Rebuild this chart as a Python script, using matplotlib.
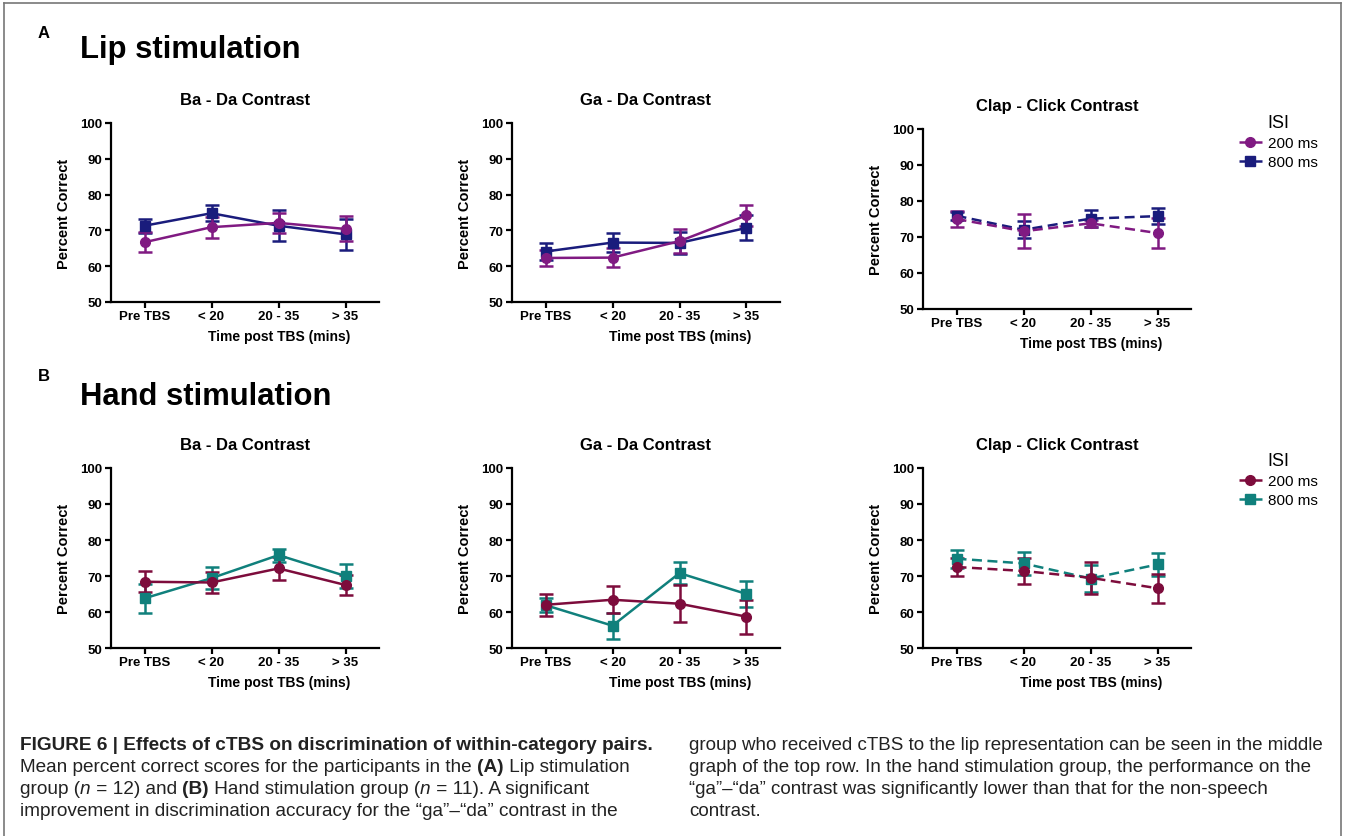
import matplotlib
matplotlib.use("Agg")
import matplotlib.pyplot as plt
from matplotlib import font_manager
from matplotlib.lines import Line2D

# x categories and panel titles
time_labels = ["Pre TBS", "< 20", "20 - 35", "> 35"]
contrasts = ["Ba - Da Contrast", "Ga - Da Contrast", "Clap - Click Contrast"]

# rows: Ba-Da, Ga-Da, Clap-Click ; columns: time points
lip_200_mean = [[66.7, 70.9, 72.1, 70.4],
                [62.3, 62.4, 67.0, 74.2],
                [75.0, 71.6, 73.8, 71.1]]
lip_200_err = [[2.8, 2.9, 2.7, 3.5],
               [2.3, 2.7, 3.4, 3.0],
               [2.1, 4.7, 1.0, 4.2]]
lip_800_mean = [[71.3, 74.8, 71.3, 68.9],
                [64.1, 66.6, 66.5, 70.7],
                [75.9, 72.0, 75.1, 75.8]]
lip_800_err = [[2.0, 2.3, 4.3, 4.4],
               [2.3, 2.6, 3.0, 3.5],
               [1.1, 2.4, 2.4, 2.3]]

hand_200_mean = [[68.4, 68.2, 72.1, 67.5],
                 [62.0, 63.4, 62.3, 58.7],
                 [72.5, 71.4, 69.5, 66.6]]
hand_200_err = [[2.9, 3.0, 3.1, 2.7],
                [3.0, 3.8, 5.1, 4.7],
                [2.6, 3.6, 4.5, 4.0]]
hand_800_mean = [[63.8, 69.4, 75.8, 70.0],
                 [61.9, 56.2, 70.8, 65.0],
                 [74.8, 73.5, 69.3, 73.2]]
hand_800_err = [[4.0, 3.0, 1.8, 3.3],
                [2.0, 3.6, 3.0, 3.7],
                [2.5, 3.2, 3.8, 3.1]]

lip_colors = {"200": "#801a82", "800": "#1a1c7c"}
hand_colors = {"200": "#7d0c3c", "800": "#10807c"}

plt.rcParams["font.family"] = ["Liberation Sans", "DejaVu Sans"]
names = {f.name for f in font_manager.fontManager.ttflist}
cap_font = "Liberation Sans Narrow" if "Liberation Sans Narrow" in names else "Liberation Sans"

W, H = 1346, 837
fig = plt.figure(figsize=(W / 100, H / 100), dpi=100)


def rect(l, t, r, b):
    return [l / W, 1 - b / H, (r - l) / W, (b - t) / H]


def draw_panel(ax, title, m200, e200, m800, e800, colors, dashed, legend_top=None):
    x = list(range(len(time_labels)))
    ls = (0, (4, 2.2)) if dashed else "-"
    for key, m, e, mk in [("800", m800, e800, "s"), ("200", m200, e200, "o")]:
        ax.errorbar(x, m, yerr=e, color=colors[key], ls=ls, lw=1.8,
                    marker=mk, ms=7, capsize=5, capthick=1.8, elinewidth=1.8)
    ax.set_xlim(-0.5, 3.5)
    ax.set_ylim(50, 100)
    ax.set_yticks(range(50, 101, 10))
    ax.set_xticks(x)
    ax.set_xticklabels(time_labels)
    for s in ["top", "right"]:
        ax.spines[s].set_visible(False)
    for s in ["left", "bottom"]:
        ax.spines[s].set_linewidth(1.6)
    ax.tick_params(width=1.6, length=4, labelsize=9.5, pad=2)
    for lab in ax.get_xticklabels() + ax.get_yticklabels():
        lab.set_fontweight("bold")
    ax.set_title(title, fontsize=12, fontweight="bold", pad=14)
    ax.set_xlabel("Time post TBS (mins)", fontsize=10, fontweight="bold")
    ax.xaxis.set_label_coords(0.627, -0.15)
    ax.set_ylabel("Percent Correct", fontsize=10.5, fontweight="bold")
    ax.yaxis.set_label_coords(-0.15, 0.5)
    if legend_top is not None:
        handles = [Line2D([], [], color=colors["200"], marker="o", ms=7, lw=1.8, ls=ls),
                   Line2D([], [], color=colors["800"], marker="s", ms=7, lw=1.8, ls=ls)]
        ax.legend(handles, ["200 ms", "800 ms"], title="ISI", loc="upper left",
                  bbox_to_anchor=(1231 / W, 1 - legend_top / H),
                  bbox_transform=fig.transFigure, frameon=False,
                  fontsize=11, title_fontsize=13, borderpad=0,
                  handlelength=1.5, handletextpad=0.45, labelspacing=0.35)


lefts = [111, 512, 923]
for i in range(3):
    top, bot = (130, 310) if i == 2 else (124, 303)
    ax = fig.add_axes(rect(lefts[i], top, lefts[i] + 268, bot))
    draw_panel(ax, contrasts[i], lip_200_mean[i], lip_200_err[i],
               lip_800_mean[i], lip_800_err[i], lip_colors, i == 2,
               107 if i == 2 else None)
for i in range(3):
    ax = fig.add_axes(rect(lefts[i], 469, lefts[i] + 268, 649))
    draw_panel(ax, contrasts[i], hand_200_mean[i], hand_200_err[i],
               hand_800_mean[i], hand_800_err[i], hand_colors, i == 2,
               445 if i == 2 else None)

# section headings
fig.text(38 / W, 1 - 33 / H, "A", fontsize=12, fontweight="bold", va="center")
fig.text(80 / W, 1 - 50 / H, "Lip stimulation", fontsize=22.3, fontweight="bold", va="center")
fig.text(38 / W, 1 - 377 / H, "B", fontsize=12, fontweight="bold", va="center")
fig.text(80 / W, 1 - 397 / H, "Hand stimulation", fontsize=22.3, fontweight="bold", va="center")

# outer frame
for xs, ys in [([4, 4], [4, 837]), ([4, 1341], [4, 4]), ([1341, 1341], [4, 837])]:
    fig.add_artist(Line2D([v / W for v in xs], [1 - v / H for v in ys],
                          color="#777777", lw=1.2))

# caption
renderer = fig.canvas.get_renderer()


def rich_line(x, y, parts, size):
    xp = x
    for txt, weight, style in parts:
        fp = font_manager.FontProperties(family=[cap_font, "DejaVu Sans"], size=size,
                                         weight=weight, style=style)
        fig.text(xp / W, 1 - y / H, txt, fontproperties=fp, va="center", color="#222222")
        w1, _, _ = renderer.get_text_width_height_descent(txt + "x", fp, ismath=False)
        w2, _, _ = renderer.get_text_width_height_descent("x", fp, ismath=False)
        xp += w1 - w2


N, B, I = ("normal", "normal"), ("bold", "normal"), ("normal", "italic")
left_lines = [
    [("FIGURE 6 | Effects of cTBS on discrimination of within-category pairs.",) + B],
    [("Mean percent correct scores for the participants in the ",) + N, ("(A)",) + B,
     (" Lip stimulation",) + N],
    [("group (",) + N, ("n",) + I, (" = 12) and ",) + N, ("(B)",) + B,
     (" Hand stimulation group (",) + N, ("n",) + I, (" = 11). A significant",) + N],
    [("improvement in discrimination accuracy for the \u201cga\u201d\u2013\u201cda\u201d contrast in the",) + N],
]
right_lines = [
    "group who received cTBS to the lip representation can be seen in the middle",
    "graph of the top row. In the hand stimulation group, the performance on the",
    "\u201cga\u201d\u2013\u201cda\u201d contrast was significantly lower than that for the non-speech",
    "contrast.",
]
ys = [746, 768, 790, 812]
for y, parts in zip(ys, left_lines):
    rich_line(20, y, parts, 13.7)
for y, txt in zip(ys, right_lines):
    rich_line(689, y, [(txt,) + N], 13.5)

fig.savefig("out.png", dpi=100)
